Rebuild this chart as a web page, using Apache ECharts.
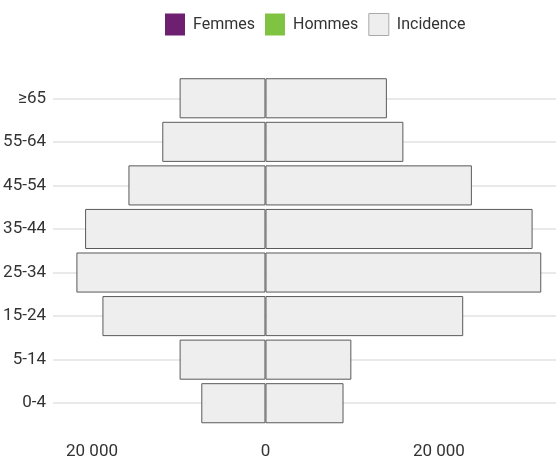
<!DOCTYPE html>
<html>
<head>
<meta charset="utf-8">
<script src="https://cdn.jsdelivr.net/npm/echarts@6/dist/echarts.min.js"></script>
<style>html,body{margin:0;padding:0;background:#fff;}#c{width:556px;height:459px;}</style>
</head>
<body>
<div id="c"></div>
<script>
var categories = ['0-4', '5-14', '15-24', '25-34', '35-44', '45-54', '55-64', '\u226565'];
var incidenceLeft = [7400, 9900, 18800, 21800, 20800, 15800, 11900, 9900];
var incidenceRight = [9000, 9900, 22800, 31800, 30800, 23800, 15900, 14000];
var xTickValues = [-20000, 0, 20000];
var legendNames = ['Femmes', 'Hommes', 'Incidence'];

var FONT = 'Roboto, "Liberation Sans", sans-serif';
function fmt(v) {
  var s = String(Math.abs(v));
  return s.replace(/\B(?=(\d{3})+(?!\d))/g, ' ');
}
var incStyle = { color: '#eeeeee', borderColor: '#5a5a5a', borderWidth: 1 };

var chart = echarts.init(document.getElementById('c'), null, { renderer: 'canvas' });
chart.setOption({
  animation: false,
  legend: {
    data: [
      { name: legendNames[0], icon: 'rect' },
      { name: legendNames[1], icon: 'rect' },
      { name: legendNames[2], icon: 'rect', itemStyle: { borderColor: '#aaaaaa', borderWidth: 1 } }
    ],
    top: 8,
    left: 160,
    itemWidth: 20,
    itemHeight: 22,
    itemGap: 10,
    textStyle: { fontFamily: FONT, fontSize: 16, color: '#333', padding: [0, 0, 0, 3] }
  },
  grid: { left: 53, right: 0, top: 76.5, bottom: 34, containLabel: false, outerBoundsMode: 'none' },
  xAxis: {
    type: 'value',
    min: -24500,
    max: 33500,
    axisLine: { show: false },
    axisTick: { show: false },
    splitLine: { show: false },
    axisLabel: {
      customValues: xTickValues,
      formatter: fmt,
      margin: 18,
      fontFamily: FONT,
      fontSize: 17,
      color: '#333'
    }
  },
  yAxis: {
    type: 'category',
    data: categories,
    axisLine: { show: false },
    axisTick: { show: false },
    splitLine: { show: true, alignWithLabel: true, lineStyle: { color: '#e9e9e9', width: 2 } },
    axisLabel: { margin: 7, fontFamily: FONT, fontSize: 17, color: '#333' }
  },
  series: [
    { name: 'Femmes', type: 'bar', stack: 'all', data: [], itemStyle: { color: '#6d1f70' } },
    { name: 'Hommes', type: 'bar', stack: 'all', data: [], itemStyle: { color: '#80c241' } },
    { name: 'Incidence', type: 'bar', stack: 'all', barWidth: '92%', data: incidenceLeft.map(function (v) { return -v; }), itemStyle: incStyle },
    { name: 'Incidence', type: 'bar', stack: 'all', barWidth: '92%', data: incidenceRight, itemStyle: incStyle }
  ]
});
</script>
</body>
</html>
